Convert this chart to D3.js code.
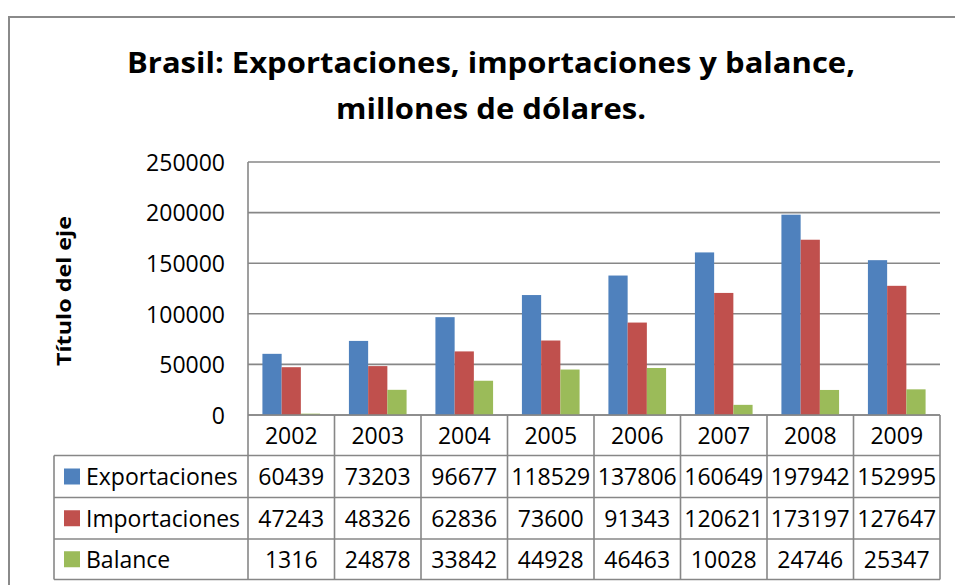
<!DOCTYPE html>
<html>
<head>
<meta charset="utf-8">
<script src="https://cdn.jsdelivr.net/npm/d3@7"></script>
<style>
  html, body { margin: 0; padding: 0; background: #fff; }
  svg { display: block; }
  text { font-family: "Open Sans", "Noto Sans", sans-serif; fill: #000; }
</style>
</head>
<body>
<svg id="chart" width="955" height="585"></svg>
<script>
// ---- data ----
const years = ["2002", "2003", "2004", "2005", "2006", "2007", "2008", "2009"];
const seriesNames = ["Exportaciones", "Importaciones", "Balance"];
const exportaciones = [60439, 73203, 96677, 118529, 137806, 160649, 197942, 152995];
const importaciones = [47243, 48326, 62836, 73600, 91343, 120621, 173197, 127647];
const balance = [1316, 24878, 33842, 44928, 46463, 10028, 24746, 25347];
const yTicks = [0, 50000, 100000, 150000, 200000, 250000];
const titleLines = ["Brasil: Exportaciones, importaciones y balance,", "millones de dólares."];
const yAxisTitle = "Título del eje";

const seriesValues = [exportaciones, importaciones, balance];
const colors = ["#4F81BD", "#C0504D", "#9BBB59"];
const lineColor = "#878787";
const fs = 23;

const svg = d3.select("#chart");

// outer chart frame (extends past the visible area)
svg.append("rect")
  .attr("x", 9).attr("y", 17).attr("width", 1000).attr("height", 1000)
  .attr("fill", "none").attr("stroke", "#8a8a8a").attr("stroke-width", 2);

// layout
const plot = { left: 248, right: 940, top: 162, bottom: 415 };
const tableRows = [415, 455.5, 497.5, 539, 579.5];
const legendLeft = 54;

const x = d3.scaleBand().domain(years).range([plot.left, plot.right]);
const x1 = d3.scaleBand().domain(seriesNames).range([0, x.bandwidth()]).paddingInner(0).paddingOuter(0.75);
const y = d3.scaleLinear().domain([0, 250000]).range([plot.bottom, plot.top]);

// gridlines
svg.append("g").selectAll("line").data(yTicks).join("line")
  .attr("x1", plot.left).attr("x2", plot.right)
  .attr("y1", d => y(d)).attr("y2", d => y(d))
  .attr("stroke", lineColor).attr("stroke-width", 1.6);

// y axis via d3 axis (labels only, styled)
const yAxis = d3.axisLeft(y).tickValues(yTicks).tickFormat(d3.format("d")).tickSize(0).tickPadding(0);
const yg = svg.append("g").attr("transform", `translate(225,0)`).call(yAxis);
yg.select(".domain").remove();
yg.selectAll("text")
  .attr("font-family", "'Open Sans', sans-serif")
  .attr("font-size", fs).attr("fill", "#000").attr("dy", "0.36em");

// bars
const groups = svg.append("g").selectAll("g").data(seriesNames).join("g")
  .attr("fill", (d, i) => colors[i]);
groups.selectAll("rect")
  .data((s, si) => years.map((yr, j) => ({ yr, s, v: seriesValues[si][j] })))
  .join("rect")
  .attr("x", d => x(d.yr) + x1(d.s))
  .attr("width", x1.bandwidth())
  .attr("y", d => y(d.v))
  .attr("height", d => y(0) - y(d.v));

// data table lines
const tg = svg.append("g").attr("stroke", lineColor).attr("stroke-width", 1.6);
tg.append("line").attr("x1", plot.left).attr("x2", plot.right).attr("y1", tableRows[0]).attr("y2", tableRows[0]);
tableRows.slice(1).forEach(r => {
  tg.append("line").attr("x1", legendLeft).attr("x2", plot.right).attr("y1", r).attr("y2", r);
});
tg.append("line").attr("x1", plot.left).attr("x2", plot.left).attr("y1", plot.top).attr("y2", tableRows[4]);
years.forEach(yr => {
  const xr = x(yr) + x.bandwidth();
  tg.append("line").attr("x1", xr).attr("x2", xr).attr("y1", tableRows[0]).attr("y2", tableRows[4]);
});
tg.append("line").attr("x1", legendLeft).attr("x2", legendLeft).attr("y1", tableRows[1]).attr("y2", tableRows[4]);

// year labels
svg.append("g").selectAll("text").data(years).join("text")
  .attr("x", d => x(d) + x.bandwidth() / 2)
  .attr("y", (tableRows[0] + tableRows[1]) / 2)
  .attr("dy", "0.36em")
  .attr("text-anchor", "middle").attr("font-size", fs)
  .text(d => d);

// values + legend
seriesNames.forEach((s, si) => {
  const cy = (tableRows[si + 1] + tableRows[si + 2]) / 2;
  svg.append("g").selectAll("text").data(seriesValues[si]).join("text")
    .attr("x", (d, j) => x(years[j]) + x.bandwidth() / 2)
    .attr("y", cy).attr("dy", "0.36em")
    .attr("text-anchor", "middle").attr("font-size", fs)
    .text(d => d);
  svg.append("rect").attr("x", 64).attr("y", cy - 8).attr("width", 16).attr("height", 16)
    .attr("fill", colors[si]);
  const lt = svg.append("text").attr("x", 86).attr("y", cy).attr("dy", "0.36em")
    .attr("font-size", fs).text(s);
  const lw = lt.node().getComputedTextLength();
  const maxW = 240 - 86;
  if (lw > maxW) lt.attr("textLength", maxW).attr("lengthAdjust", "spacingAndGlyphs");
});

// title
titleLines.forEach((t, i) => {
  const tl = svg.append("text")
    .attr("x", 491).attr("y", i === 0 ? 73 : 119)
    .attr("text-anchor", "middle")
    .attr("font-size", 29).attr("font-weight", "bold")
    .text(t);
  const target = i === 0 ? 728 : 310;
  const w = tl.node().getComputedTextLength();
  if (Math.abs(w - target) > 2) {
    tl.attr("textLength", target).attr("lengthAdjust", "spacingAndGlyphs");
  }
});

// y axis title
const yt = svg.append("text")
  .attr("transform", "translate(71,291) rotate(-90)")
  .attr("text-anchor", "middle")
  .attr("font-size", 20).attr("font-weight", "bold")
  .text(yAxisTitle);
const ytw = yt.node().getComputedTextLength();
if (Math.abs(ytw - 150) > 2) yt.attr("textLength", 150).attr("lengthAdjust", "spacingAndGlyphs");
</script>
</body>
</html>
